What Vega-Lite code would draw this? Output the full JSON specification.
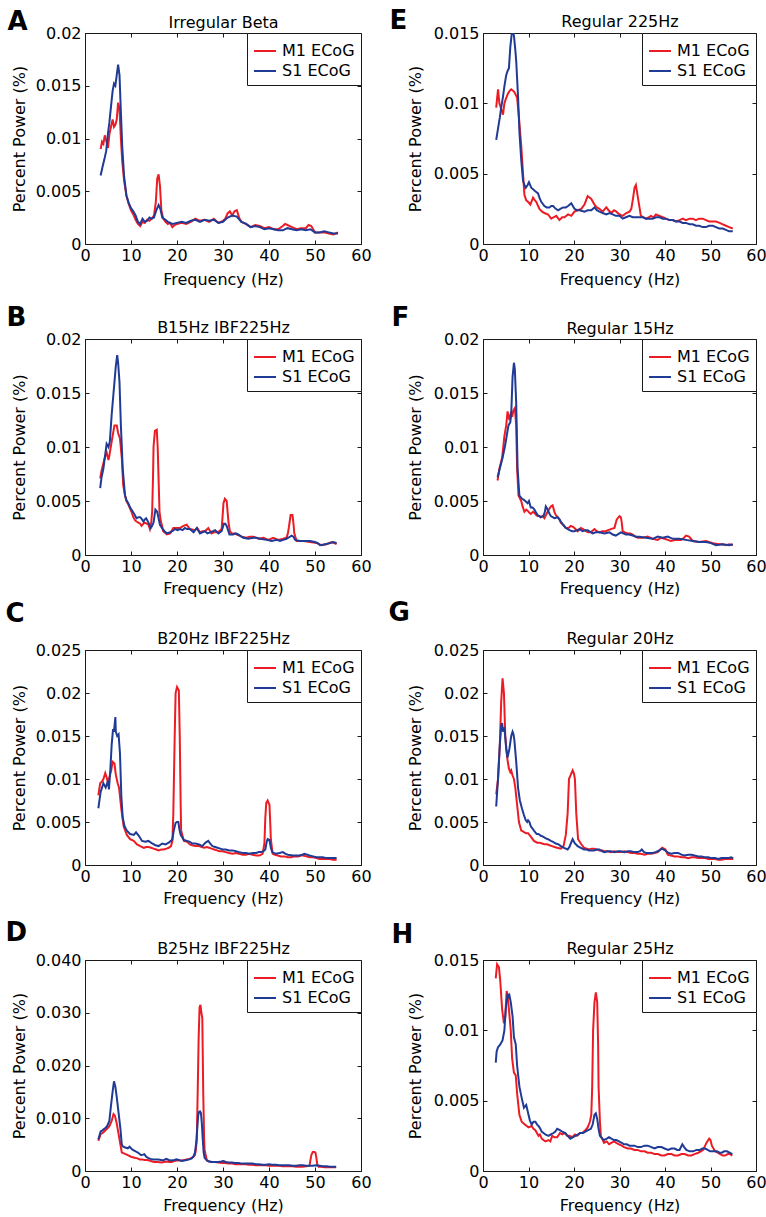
{
"$schema": "https://vega.github.io/schema/vega-lite/v6.json",
"background": "white",
"padding": {"left": 4, "top": 6, "right": 4, "bottom": 4},
"columns": 2,
"spacing": {"row": 95, "column": 122},
"bounds": "flush",
"align": "each",
"resolve": {"scale": {"color": "independent"}, "legend": {"color": "independent"}},
"datasets": {
"A": [
{"f":3.4,"s":"M1","v":0.0090},{"f":3.7,"s":"M1","v":0.0097},{"f":4.0,"s":"M1","v":0.0095},{"f":4.3,"s":"M1","v":0.0103},{"f":4.6,"s":"M1","v":0.0098},{"f":5.0,"s":"M1","v":0.0091},{"f":5.3,"s":"M1","v":0.0104},{"f":5.7,"s":"M1","v":0.0112},{"f":6.0,"s":"M1","v":0.0118},{"f":6.3,"s":"M1","v":0.0111},{"f":6.6,"s":"M1","v":0.0113},{"f":6.9,"s":"M1","v":0.0118},{"f":7.2,"s":"M1","v":0.0134},{"f":7.5,"s":"M1","v":0.0128},{"f":7.8,"s":"M1","v":0.0100},{"f":8.1,"s":"M1","v":0.0078},{"f":8.5,"s":"M1","v":0.0060},{"f":9.0,"s":"M1","v":0.0046},{"f":9.5,"s":"M1","v":0.0038},{"f":10.0,"s":"M1","v":0.0032},{"f":10.5,"s":"M1","v":0.0028},{"f":11.0,"s":"M1","v":0.0023},{"f":11.5,"s":"M1","v":0.0019},{"f":12.0,"s":"M1","v":0.0017},{"f":12.5,"s":"M1","v":0.0021},{"f":13.0,"s":"M1","v":0.0020},{"f":13.5,"s":"M1","v":0.0023},{"f":14.0,"s":"M1","v":0.0022},{"f":14.5,"s":"M1","v":0.0024},{"f":15.0,"s":"M1","v":0.0027},{"f":15.4,"s":"M1","v":0.0040},{"f":15.7,"s":"M1","v":0.0062},{"f":16.0,"s":"M1","v":0.0066},{"f":16.3,"s":"M1","v":0.0055},{"f":16.6,"s":"M1","v":0.0032},{"f":17.0,"s":"M1","v":0.0024},{"f":17.5,"s":"M1","v":0.0021},{"f":18.0,"s":"M1","v":0.0019},{"f":18.5,"s":"M1","v":0.0020},{"f":19.0,"s":"M1","v":0.0016},{"f":19.5,"s":"M1","v":0.0018},{"f":20,"s":"M1","v":0.0019},{"f":21,"s":"M1","v":0.0020},{"f":22,"s":"M1","v":0.0019},{"f":23,"s":"M1","v":0.0021},{"f":24,"s":"M1","v":0.0024},{"f":25,"s":"M1","v":0.0022},{"f":26,"s":"M1","v":0.0023},{"f":27,"s":"M1","v":0.0021},{"f":28,"s":"M1","v":0.0024},{"f":29,"s":"M1","v":0.0020},{"f":30,"s":"M1","v":0.0022},{"f":30.5,"s":"M1","v":0.0024},{"f":31,"s":"M1","v":0.0029},{"f":31.5,"s":"M1","v":0.0031},{"f":32,"s":"M1","v":0.0027},{"f":32.5,"s":"M1","v":0.0031},{"f":33,"s":"M1","v":0.0032},{"f":33.5,"s":"M1","v":0.0025},{"f":34,"s":"M1","v":0.0021},{"f":35,"s":"M1","v":0.0019},{"f":36,"s":"M1","v":0.0016},{"f":37,"s":"M1","v":0.0018},{"f":38,"s":"M1","v":0.0017},{"f":39,"s":"M1","v":0.0015},{"f":40,"s":"M1","v":0.0016},{"f":41,"s":"M1","v":0.0014},{"f":42,"s":"M1","v":0.0014},{"f":43,"s":"M1","v":0.0017},{"f":43.5,"s":"M1","v":0.0019},{"f":44,"s":"M1","v":0.0018},{"f":45,"s":"M1","v":0.0016},{"f":46,"s":"M1","v":0.0014},{"f":47,"s":"M1","v":0.0015},{"f":48,"s":"M1","v":0.0015},{"f":48.6,"s":"M1","v":0.0018},{"f":49.2,"s":"M1","v":0.0017},{"f":50,"s":"M1","v":0.0011},{"f":51,"s":"M1","v":0.0011},{"f":52,"s":"M1","v":0.0011},{"f":53,"s":"M1","v":0.0010},{"f":54,"s":"M1","v":0.0009},{"f":55,"s":"M1","v":0.0011},
{"f":3.4,"s":"S1","v":0.0065},{"f":3.8,"s":"S1","v":0.0073},{"f":4.2,"s":"S1","v":0.0080},{"f":4.6,"s":"S1","v":0.0088},{"f":5.0,"s":"S1","v":0.0105},{"f":5.3,"s":"S1","v":0.0115},{"f":5.6,"s":"S1","v":0.0128},{"f":6.0,"s":"S1","v":0.0145},{"f":6.3,"s":"S1","v":0.0152},{"f":6.6,"s":"S1","v":0.0150},{"f":6.9,"s":"S1","v":0.0160},{"f":7.2,"s":"S1","v":0.0170},{"f":7.5,"s":"S1","v":0.0160},{"f":7.8,"s":"S1","v":0.0125},{"f":8.1,"s":"S1","v":0.0092},{"f":8.5,"s":"S1","v":0.0064},{"f":9.0,"s":"S1","v":0.0046},{"f":9.5,"s":"S1","v":0.0039},{"f":10.0,"s":"S1","v":0.0034},{"f":10.5,"s":"S1","v":0.0031},{"f":11.0,"s":"S1","v":0.0027},{"f":11.5,"s":"S1","v":0.0021},{"f":12.0,"s":"S1","v":0.0019},{"f":12.5,"s":"S1","v":0.0024},{"f":13.0,"s":"S1","v":0.0021},{"f":13.5,"s":"S1","v":0.0022},{"f":14.0,"s":"S1","v":0.0025},{"f":14.5,"s":"S1","v":0.0024},{"f":15.0,"s":"S1","v":0.0025},{"f":15.5,"s":"S1","v":0.0032},{"f":16.0,"s":"S1","v":0.0037},{"f":16.4,"s":"S1","v":0.0033},{"f":16.8,"s":"S1","v":0.0025},{"f":17.5,"s":"S1","v":0.0023},{"f":18.0,"s":"S1","v":0.0021},{"f":19.0,"s":"S1","v":0.0019},{"f":20,"s":"S1","v":0.0020},{"f":21,"s":"S1","v":0.0021},{"f":22,"s":"S1","v":0.0020},{"f":23,"s":"S1","v":0.0022},{"f":24,"s":"S1","v":0.0023},{"f":25,"s":"S1","v":0.0021},{"f":26,"s":"S1","v":0.0023},{"f":27,"s":"S1","v":0.0022},{"f":28,"s":"S1","v":0.0023},{"f":29,"s":"S1","v":0.0020},{"f":30,"s":"S1","v":0.0021},{"f":31,"s":"S1","v":0.0025},{"f":32,"s":"S1","v":0.0027},{"f":33,"s":"S1","v":0.0026},{"f":34,"s":"S1","v":0.0021},{"f":35,"s":"S1","v":0.0019},{"f":36,"s":"S1","v":0.0016},{"f":37,"s":"S1","v":0.0017},{"f":38,"s":"S1","v":0.0016},{"f":39,"s":"S1","v":0.0014},{"f":40,"s":"S1","v":0.0015},{"f":41,"s":"S1","v":0.0014},{"f":42,"s":"S1","v":0.0013},{"f":43,"s":"S1","v":0.0013},{"f":44,"s":"S1","v":0.0015},{"f":45,"s":"S1","v":0.0014},{"f":46,"s":"S1","v":0.0013},{"f":47,"s":"S1","v":0.0014},{"f":48,"s":"S1","v":0.0013},{"f":49,"s":"S1","v":0.0014},{"f":50,"s":"S1","v":0.0011},{"f":51,"s":"S1","v":0.0011},{"f":52,"s":"S1","v":0.0012},{"f":53,"s":"S1","v":0.0011},{"f":54,"s":"S1","v":0.0010},{"f":55,"s":"S1","v":0.0010}
],
"E": [
{"f":2.9,"s":"M1","v":0.0097},{"f":3.3,"s":"M1","v":0.0110},{"f":3.6,"s":"M1","v":0.0100},{"f":4.0,"s":"M1","v":0.0096},{"f":4.4,"s":"M1","v":0.0092},{"f":4.7,"s":"M1","v":0.0100},{"f":5.0,"s":"M1","v":0.0103},{"f":5.5,"s":"M1","v":0.0107},{"f":5.9,"s":"M1","v":0.0109},{"f":6.2,"s":"M1","v":0.0110},{"f":6.6,"s":"M1","v":0.0109},{"f":6.9,"s":"M1","v":0.0108},{"f":7.2,"s":"M1","v":0.0106},{"f":7.5,"s":"M1","v":0.0104},{"f":7.9,"s":"M1","v":0.0090},{"f":8.2,"s":"M1","v":0.0078},{"f":8.4,"s":"M1","v":0.0070},{"f":8.8,"s":"M1","v":0.0050},{"f":9.1,"s":"M1","v":0.0035},{"f":9.5,"s":"M1","v":0.0031},{"f":9.9,"s":"M1","v":0.0030},{"f":10.4,"s":"M1","v":0.0028},{"f":11.0,"s":"M1","v":0.0033},{"f":11.4,"s":"M1","v":0.0031},{"f":11.7,"s":"M1","v":0.0030},{"f":12.4,"s":"M1","v":0.0025},{"f":13.0,"s":"M1","v":0.0023},{"f":13.5,"s":"M1","v":0.0022},{"f":14.3,"s":"M1","v":0.0021},{"f":15.0,"s":"M1","v":0.0018},{"f":15.5,"s":"M1","v":0.0019},{"f":16.1,"s":"M1","v":0.0020},{"f":16.8,"s":"M1","v":0.0017},{"f":17.4,"s":"M1","v":0.0019},{"f":17.9,"s":"M1","v":0.0019},{"f":18.7,"s":"M1","v":0.0021},{"f":19.4,"s":"M1","v":0.0020},{"f":20.1,"s":"M1","v":0.0023},{"f":20.8,"s":"M1","v":0.0024},{"f":21.6,"s":"M1","v":0.0025},{"f":22.3,"s":"M1","v":0.0028},{"f":23.0,"s":"M1","v":0.0034},{"f":23.4,"s":"M1","v":0.0033},{"f":23.8,"s":"M1","v":0.0032},{"f":24.5,"s":"M1","v":0.0028},{"f":25.0,"s":"M1","v":0.0026},{"f":25.6,"s":"M1","v":0.0025},{"f":26.3,"s":"M1","v":0.0023},{"f":27.1,"s":"M1","v":0.0026},{"f":27.6,"s":"M1","v":0.0024},{"f":28.2,"s":"M1","v":0.0022},{"f":28.8,"s":"M1","v":0.0024},{"f":29.3,"s":"M1","v":0.0023},{"f":30.0,"s":"M1","v":0.0021},{"f":30.7,"s":"M1","v":0.0020},{"f":31.5,"s":"M1","v":0.0022},{"f":32.2,"s":"M1","v":0.0023},{"f":32.6,"s":"M1","v":0.0025},{"f":33.0,"s":"M1","v":0.0033},{"f":33.3,"s":"M1","v":0.0040},{"f":33.6,"s":"M1","v":0.0042},{"f":33.9,"s":"M1","v":0.0036},{"f":34.2,"s":"M1","v":0.0030},{"f":34.7,"s":"M1","v":0.0020},{"f":35.3,"s":"M1","v":0.0019},{"f":35.8,"s":"M1","v":0.0018},{"f":36.4,"s":"M1","v":0.0019},{"f":36.9,"s":"M1","v":0.0020},{"f":37.5,"s":"M1","v":0.0019},{"f":38.0,"s":"M1","v":0.0021},{"f":38.8,"s":"M1","v":0.0020},{"f":39.5,"s":"M1","v":0.0019},{"f":40.2,"s":"M1","v":0.0018},{"f":41.0,"s":"M1","v":0.0017},{"f":41.7,"s":"M1","v":0.0017},{"f":42.4,"s":"M1","v":0.0016},{"f":43.2,"s":"M1","v":0.0017},{"f":43.9,"s":"M1","v":0.0018},{"f":44.6,"s":"M1","v":0.0017},{"f":45.4,"s":"M1","v":0.0018},{"f":46.1,"s":"M1","v":0.0018},{"f":46.8,"s":"M1","v":0.0017},{"f":47.5,"s":"M1","v":0.0018},{"f":48.3,"s":"M1","v":0.0018},{"f":49.0,"s":"M1","v":0.0017},{"f":49.7,"s":"M1","v":0.0016},{"f":50.5,"s":"M1","v":0.0016},{"f":51.2,"s":"M1","v":0.0016},{"f":52.0,"s":"M1","v":0.0015},{"f":52.7,"s":"M1","v":0.0014},{"f":53.4,"s":"M1","v":0.0013},{"f":54.1,"s":"M1","v":0.0012},{"f":54.9,"s":"M1","v":0.0011},
{"f":2.9,"s":"S1","v":0.0074},{"f":3.3,"s":"S1","v":0.0082},{"f":3.7,"s":"S1","v":0.0090},{"f":4.0,"s":"S1","v":0.0097},{"f":4.4,"s":"S1","v":0.0105},{"f":4.7,"s":"S1","v":0.0112},{"f":5.1,"s":"S1","v":0.0120},{"f":5.4,"s":"S1","v":0.0123},{"f":5.7,"s":"S1","v":0.0125},{"f":6.0,"s":"S1","v":0.0140},{"f":6.3,"s":"S1","v":0.0149},{"f":6.6,"s":"S1","v":0.0150},{"f":6.8,"s":"S1","v":0.0148},{"f":7.1,"s":"S1","v":0.0138},{"f":7.3,"s":"S1","v":0.0130},{"f":7.7,"s":"S1","v":0.0105},{"f":8.0,"s":"S1","v":0.0080},{"f":8.4,"s":"S1","v":0.0060},{"f":8.8,"s":"S1","v":0.0045},{"f":9.1,"s":"S1","v":0.0042},{"f":9.4,"s":"S1","v":0.0040},{"f":9.8,"s":"S1","v":0.0042},{"f":10.1,"s":"S1","v":0.0044},{"f":10.6,"s":"S1","v":0.0040},{"f":11.0,"s":"S1","v":0.0039},{"f":11.3,"s":"S1","v":0.0038},{"f":11.7,"s":"S1","v":0.0037},{"f":12.1,"s":"S1","v":0.0036},{"f":12.4,"s":"S1","v":0.0033},{"f":12.8,"s":"S1","v":0.0030},{"f":13.5,"s":"S1","v":0.0027},{"f":14.0,"s":"S1","v":0.0026},{"f":14.6,"s":"S1","v":0.0026},{"f":15.0,"s":"S1","v":0.0027},{"f":15.4,"s":"S1","v":0.0027},{"f":16.0,"s":"S1","v":0.0025},{"f":16.5,"s":"S1","v":0.0024},{"f":17.0,"s":"S1","v":0.0025},{"f":17.6,"s":"S1","v":0.0026},{"f":18.2,"s":"S1","v":0.0026},{"f":18.7,"s":"S1","v":0.0027},{"f":19.4,"s":"S1","v":0.0029},{"f":20.1,"s":"S1","v":0.0025},{"f":20.7,"s":"S1","v":0.0024},{"f":21.2,"s":"S1","v":0.0024},{"f":22.3,"s":"S1","v":0.0023},{"f":23.0,"s":"S1","v":0.0024},{"f":23.8,"s":"S1","v":0.0024},{"f":24.5,"s":"S1","v":0.0026},{"f":25.0,"s":"S1","v":0.0024},{"f":25.6,"s":"S1","v":0.0023},{"f":26.3,"s":"S1","v":0.0022},{"f":27.1,"s":"S1","v":0.0021},{"f":27.8,"s":"S1","v":0.0022},{"f":28.5,"s":"S1","v":0.0021},{"f":29.2,"s":"S1","v":0.0020},{"f":30.0,"s":"S1","v":0.0020},{"f":30.7,"s":"S1","v":0.0018},{"f":31.4,"s":"S1","v":0.0019},{"f":32.2,"s":"S1","v":0.0020},{"f":32.9,"s":"S1","v":0.0019},{"f":33.6,"s":"S1","v":0.0019},{"f":34.3,"s":"S1","v":0.0019},{"f":35.1,"s":"S1","v":0.0019},{"f":35.8,"s":"S1","v":0.0018},{"f":36.6,"s":"S1","v":0.0018},{"f":37.3,"s":"S1","v":0.0018},{"f":38.0,"s":"S1","v":0.0019},{"f":38.8,"s":"S1","v":0.0019},{"f":39.5,"s":"S1","v":0.0018},{"f":40.2,"s":"S1","v":0.0018},{"f":41.0,"s":"S1","v":0.0017},{"f":41.7,"s":"S1","v":0.0017},{"f":42.4,"s":"S1","v":0.0016},{"f":43.2,"s":"S1","v":0.0016},{"f":43.9,"s":"S1","v":0.0015},{"f":44.6,"s":"S1","v":0.0015},{"f":45.4,"s":"S1","v":0.0014},{"f":46.1,"s":"S1","v":0.0014},{"f":46.8,"s":"S1","v":0.0013},{"f":47.5,"s":"S1","v":0.0013},{"f":48.3,"s":"S1","v":0.0012},{"f":49.0,"s":"S1","v":0.0012},{"f":49.7,"s":"S1","v":0.0013},{"f":50.5,"s":"S1","v":0.0013},{"f":51.2,"s":"S1","v":0.0012},{"f":51.9,"s":"S1","v":0.0011},{"f":52.7,"s":"S1","v":0.0011},{"f":53.4,"s":"S1","v":0.0010},{"f":54.1,"s":"S1","v":0.0009},{"f":54.9,"s":"S1","v":0.0009}
],
"B": [
{"f":3.3,"s":"M1","v":0.0071},{"f":3.6,"s":"M1","v":0.0078},{"f":4.0,"s":"M1","v":0.0085},{"f":4.3,"s":"M1","v":0.0090},{"f":4.7,"s":"M1","v":0.0095},{"f":5.1,"s":"M1","v":0.0088},{"f":5.3,"s":"M1","v":0.0092},{"f":5.6,"s":"M1","v":0.0100},{"f":6.0,"s":"M1","v":0.0110},{"f":6.4,"s":"M1","v":0.0120},{"f":6.9,"s":"M1","v":0.0120},{"f":7.2,"s":"M1","v":0.0113},{"f":7.6,"s":"M1","v":0.0108},{"f":8.0,"s":"M1","v":0.0090},{"f":8.3,"s":"M1","v":0.0065},{"f":8.7,"s":"M1","v":0.0055},{"f":9.0,"s":"M1","v":0.0050},{"f":9.4,"s":"M1","v":0.0047},{"f":9.8,"s":"M1","v":0.0043},{"f":10.1,"s":"M1","v":0.0040},{"f":10.5,"s":"M1","v":0.0035},{"f":10.9,"s":"M1","v":0.0032},{"f":11.2,"s":"M1","v":0.0031},{"f":11.6,"s":"M1","v":0.0030},{"f":12.0,"s":"M1","v":0.0029},{"f":12.3,"s":"M1","v":0.0027},{"f":12.7,"s":"M1","v":0.0029},{"f":13.0,"s":"M1","v":0.0030},{"f":13.4,"s":"M1","v":0.0029},{"f":13.8,"s":"M1","v":0.0028},{"f":14.1,"s":"M1","v":0.0024},{"f":14.4,"s":"M1","v":0.0030},{"f":14.6,"s":"M1","v":0.0040},{"f":14.8,"s":"M1","v":0.0075},{"f":14.9,"s":"M1","v":0.0100},{"f":15.2,"s":"M1","v":0.0115},{"f":15.6,"s":"M1","v":0.0116},{"f":15.8,"s":"M1","v":0.0100},{"f":16.0,"s":"M1","v":0.0070},{"f":16.2,"s":"M1","v":0.0040},{"f":16.5,"s":"M1","v":0.0031},{"f":16.7,"s":"M1","v":0.0028},{"f":17.0,"s":"M1","v":0.0022},{"f":17.8,"s":"M1","v":0.0019},{"f":18.5,"s":"M1","v":0.0020},{"f":19.2,"s":"M1","v":0.0025},{"f":19.9,"s":"M1","v":0.0025},{"f":20.6,"s":"M1","v":0.0025},{"f":21.4,"s":"M1","v":0.0027},{"f":22.1,"s":"M1","v":0.0028},{"f":22.8,"s":"M1","v":0.0024},{"f":23.9,"s":"M1","v":0.0023},{"f":24.4,"s":"M1","v":0.0025},{"f":25.0,"s":"M1","v":0.0021},{"f":25.5,"s":"M1","v":0.0022},{"f":26.1,"s":"M1","v":0.0022},{"f":26.8,"s":"M1","v":0.0025},{"f":27.5,"s":"M1","v":0.0020},{"f":28.0,"s":"M1","v":0.0021},{"f":28.6,"s":"M1","v":0.0021},{"f":29.2,"s":"M1","v":0.0022},{"f":29.7,"s":"M1","v":0.0024},{"f":29.9,"s":"M1","v":0.0035},{"f":30.1,"s":"M1","v":0.0048},{"f":30.4,"s":"M1","v":0.0052},{"f":30.8,"s":"M1","v":0.0050},{"f":31.0,"s":"M1","v":0.0040},{"f":31.2,"s":"M1","v":0.0030},{"f":31.5,"s":"M1","v":0.0022},{"f":31.9,"s":"M1","v":0.0020},{"f":32.5,"s":"M1","v":0.0020},{"f":33.0,"s":"M1","v":0.0019},{"f":34.1,"s":"M1","v":0.0017},{"f":35.1,"s":"M1","v":0.0016},{"f":35.8,"s":"M1","v":0.0017},{"f":36.6,"s":"M1","v":0.0017},{"f":37.7,"s":"M1","v":0.0015},{"f":38.8,"s":"M1","v":0.0016},{"f":39.9,"s":"M1","v":0.0014},{"f":40.9,"s":"M1","v":0.0016},{"f":41.5,"s":"M1","v":0.0015},{"f":42.0,"s":"M1","v":0.0014},{"f":43.1,"s":"M1","v":0.0015},{"f":43.8,"s":"M1","v":0.0016},{"f":44.1,"s":"M1","v":0.0020},{"f":44.3,"s":"M1","v":0.0025},{"f":44.7,"s":"M1","v":0.0037},{"f":45.1,"s":"M1","v":0.0037},{"f":45.3,"s":"M1","v":0.0030},{"f":45.5,"s":"M1","v":0.0020},{"f":46.0,"s":"M1","v":0.0013},{"f":47.5,"s":"M1","v":0.0013},{"f":48.9,"s":"M1","v":0.0012},{"f":50.4,"s":"M1","v":0.0011},{"f":51.4,"s":"M1","v":0.0009},{"f":52.5,"s":"M1","v":0.0010},{"f":53.6,"s":"M1","v":0.0012},{"f":54.7,"s":"M1","v":0.0010},
{"f":3.3,"s":"S1","v":0.0062},{"f":3.6,"s":"S1","v":0.0072},{"f":4.0,"s":"S1","v":0.0080},{"f":4.3,"s":"S1","v":0.0090},{"f":4.7,"s":"S1","v":0.0103},{"f":5.1,"s":"S1","v":0.0100},{"f":5.4,"s":"S1","v":0.0105},{"f":5.8,"s":"S1","v":0.0130},{"f":6.2,"s":"S1","v":0.0150},{"f":6.5,"s":"S1","v":0.0165},{"f":6.7,"s":"S1","v":0.0175},{"f":7.0,"s":"S1","v":0.0185},{"f":7.2,"s":"S1","v":0.0178},{"f":7.5,"s":"S1","v":0.0160},{"f":7.8,"s":"S1","v":0.0120},{"f":8.2,"s":"S1","v":0.0080},{"f":8.7,"s":"S1","v":0.0055},{"f":9.0,"s":"S1","v":0.0051},{"f":9.4,"s":"S1","v":0.0048},{"f":9.7,"s":"S1","v":0.0045},{"f":10.1,"s":"S1","v":0.0042},{"f":10.4,"s":"S1","v":0.0040},{"f":10.7,"s":"S1","v":0.0038},{"f":11.2,"s":"S1","v":0.0034},{"f":11.6,"s":"S1","v":0.0035},{"f":12.0,"s":"S1","v":0.0035},{"f":12.4,"s":"S1","v":0.0033},{"f":12.7,"s":"S1","v":0.0031},{"f":13.0,"s":"S1","v":0.0033},{"f":13.3,"s":"S1","v":0.0034},{"f":13.8,"s":"S1","v":0.0030},{"f":14.3,"s":"S1","v":0.0025},{"f":14.6,"s":"S1","v":0.0027},{"f":14.9,"s":"S1","v":0.0030},{"f":15.1,"s":"S1","v":0.0036},{"f":15.3,"s":"S1","v":0.0042},{"f":15.7,"s":"S1","v":0.0040},{"f":16.0,"s":"S1","v":0.0034},{"f":16.3,"s":"S1","v":0.0028},{"f":16.9,"s":"S1","v":0.0024},{"f":17.3,"s":"S1","v":0.0022},{"f":17.8,"s":"S1","v":0.0020},{"f":18.5,"s":"S1","v":0.0021},{"f":19.0,"s":"S1","v":0.0022},{"f":19.6,"s":"S1","v":0.0024},{"f":20.1,"s":"S1","v":0.0023},{"f":20.7,"s":"S1","v":0.0024},{"f":21.2,"s":"S1","v":0.0023},{"f":21.7,"s":"S1","v":0.0025},{"f":22.2,"s":"S1","v":0.0024},{"f":22.8,"s":"S1","v":0.0024},{"f":23.6,"s":"S1","v":0.0021},{"f":24.3,"s":"S1","v":0.0025},{"f":25.0,"s":"S1","v":0.0020},{"f":25.5,"s":"S1","v":0.0021},{"f":26.1,"s":"S1","v":0.0022},{"f":26.6,"s":"S1","v":0.0020},{"f":27.2,"s":"S1","v":0.0021},{"f":27.8,"s":"S1","v":0.0022},{"f":28.3,"s":"S1","v":0.0023},{"f":29.0,"s":"S1","v":0.0020},{"f":29.7,"s":"S1","v":0.0022},{"f":30.2,"s":"S1","v":0.0029},{"f":30.5,"s":"S1","v":0.0029},{"f":30.8,"s":"S1","v":0.0027},{"f":31.4,"s":"S1","v":0.0019},{"f":32.2,"s":"S1","v":0.0019},{"f":32.8,"s":"S1","v":0.0020},{"f":33.3,"s":"S1","v":0.0019},{"f":34.4,"s":"S1","v":0.0016},{"f":35.5,"s":"S1","v":0.0015},{"f":36.6,"s":"S1","v":0.0016},{"f":37.3,"s":"S1","v":0.0016},{"f":38.0,"s":"S1","v":0.0015},{"f":39.5,"s":"S1","v":0.0014},{"f":40.6,"s":"S1","v":0.0013},{"f":41.7,"s":"S1","v":0.0014},{"f":42.4,"s":"S1","v":0.0013},{"f":43.1,"s":"S1","v":0.0014},{"f":43.8,"s":"S1","v":0.0015},{"f":44.2,"s":"S1","v":0.0016},{"f":44.9,"s":"S1","v":0.0018},{"f":45.3,"s":"S1","v":0.0017},{"f":45.7,"s":"S1","v":0.0014},{"f":46.7,"s":"S1","v":0.0013},{"f":47.8,"s":"S1","v":0.0013},{"f":48.9,"s":"S1","v":0.0013},{"f":50.0,"s":"S1","v":0.0012},{"f":50.6,"s":"S1","v":0.0011},{"f":51.1,"s":"S1","v":0.0009},{"f":52.2,"s":"S1","v":0.0010},{"f":53.3,"s":"S1","v":0.0011},{"f":54.0,"s":"S1","v":0.0012},{"f":54.7,"s":"S1","v":0.0011}
],
"F": [
{"f":3.2,"s":"M1","v":0.0069},{"f":3.6,"s":"M1","v":0.0080},{"f":4.2,"s":"M1","v":0.0090},{"f":4.7,"s":"M1","v":0.0110},{"f":5.1,"s":"M1","v":0.0120},{"f":5.4,"s":"M1","v":0.0133},{"f":5.8,"s":"M1","v":0.0125},{"f":6.2,"s":"M1","v":0.0133},{"f":6.4,"s":"M1","v":0.0128},{"f":6.7,"s":"M1","v":0.0134},{"f":7.0,"s":"M1","v":0.0136},{"f":7.3,"s":"M1","v":0.0120},{"f":7.5,"s":"M1","v":0.0080},{"f":7.8,"s":"M1","v":0.0055},{"f":8.4,"s":"M1","v":0.0050},{"f":8.7,"s":"M1","v":0.0045},{"f":9.1,"s":"M1","v":0.0040},{"f":9.5,"s":"M1","v":0.0042},{"f":9.8,"s":"M1","v":0.0041},{"f":10.2,"s":"M1","v":0.0039},{"f":10.5,"s":"M1","v":0.0038},{"f":11.0,"s":"M1","v":0.0040},{"f":11.3,"s":"M1","v":0.0039},{"f":11.7,"s":"M1","v":0.0037},{"f":12.0,"s":"M1","v":0.0036},{"f":12.4,"s":"M1","v":0.0036},{"f":12.7,"s":"M1","v":0.0035},{"f":13.1,"s":"M1","v":0.0036},{"f":13.5,"s":"M1","v":0.0034},{"f":14.2,"s":"M1","v":0.0040},{"f":14.9,"s":"M1","v":0.0045},{"f":15.3,"s":"M1","v":0.0046},{"f":15.7,"s":"M1","v":0.0040},{"f":16.0,"s":"M1","v":0.0037},{"f":16.4,"s":"M1","v":0.0035},{"f":16.8,"s":"M1","v":0.0033},{"f":17.1,"s":"M1","v":0.0030},{"f":17.6,"s":"M1","v":0.0028},{"f":18.2,"s":"M1","v":0.0025},{"f":18.8,"s":"M1","v":0.0025},{"f":19.3,"s":"M1","v":0.0027},{"f":19.8,"s":"M1","v":0.0026},{"f":20.1,"s":"M1","v":0.0025},{"f":20.8,"s":"M1","v":0.0022},{"f":21.5,"s":"M1","v":0.0025},{"f":22.0,"s":"M1","v":0.0024},{"f":22.6,"s":"M1","v":0.0022},{"f":23.1,"s":"M1","v":0.0021},{"f":23.7,"s":"M1","v":0.0021},{"f":24.5,"s":"M1","v":0.0024},{"f":25.0,"s":"M1","v":0.0022},{"f":25.6,"s":"M1","v":0.0021},{"f":26.2,"s":"M1","v":0.0022},{"f":27.0,"s":"M1","v":0.0022},{"f":27.5,"s":"M1","v":0.0023},{"f":28.1,"s":"M1","v":0.0024},{"f":28.9,"s":"M1","v":0.0025},{"f":29.2,"s":"M1","v":0.0030},{"f":29.4,"s":"M1","v":0.0033},{"f":30.0,"s":"M1","v":0.0036},{"f":30.3,"s":"M1","v":0.0035},{"f":30.5,"s":"M1","v":0.0030},{"f":30.7,"s":"M1","v":0.0022},{"f":31.2,"s":"M1","v":0.0021},{"f":31.8,"s":"M1","v":0.0020},{"f":32.4,"s":"M1","v":0.0020},{"f":32.9,"s":"M1","v":0.0019},{"f":33.5,"s":"M1","v":0.0017},{"f":34.0,"s":"M1","v":0.0016},{"f":35.1,"s":"M1","v":0.0016},{"f":36.2,"s":"M1","v":0.0017},{"f":37.3,"s":"M1","v":0.0015},{"f":38.4,"s":"M1","v":0.0014},{"f":39.1,"s":"M1","v":0.0016},{"f":39.9,"s":"M1","v":0.0015},{"f":40.6,"s":"M1","v":0.0014},{"f":41.3,"s":"M1","v":0.0013},{"f":42.4,"s":"M1","v":0.0014},{"f":43.5,"s":"M1","v":0.0014},{"f":44.2,"s":"M1","v":0.0016},{"f":44.6,"s":"M1","v":0.0018},{"f":45.3,"s":"M1","v":0.0017},{"f":46.1,"s":"M1","v":0.0013},{"f":47.5,"s":"M1","v":0.0012},{"f":49.0,"s":"M1","v":0.0013},{"f":50.5,"s":"M1","v":0.0011},{"f":51.9,"s":"M1","v":0.0010},{"f":52.6,"s":"M1","v":0.0010},{"f":53.4,"s":"M1","v":0.0009},{"f":54.1,"s":"M1","v":0.0010},{"f":54.9,"s":"M1","v":0.0009},
{"f":3.2,"s":"S1","v":0.0072},{"f":3.7,"s":"S1","v":0.0080},{"f":4.3,"s":"S1","v":0.0090},{"f":4.8,"s":"S1","v":0.0100},{"f":5.2,"s":"S1","v":0.0110},{"f":5.6,"s":"S1","v":0.0120},{"f":6.0,"s":"S1","v":0.0123},{"f":6.2,"s":"S1","v":0.0130},{"f":6.5,"s":"S1","v":0.0165},{"f":6.8,"s":"S1","v":0.0178},{"f":7.0,"s":"S1","v":0.0172},{"f":7.3,"s":"S1","v":0.0140},{"f":7.6,"s":"S1","v":0.0080},{"f":8.0,"s":"S1","v":0.0055},{"f":8.6,"s":"S1","v":0.0052},{"f":9.0,"s":"S1","v":0.0051},{"f":9.3,"s":"S1","v":0.0050},{"f":9.8,"s":"S1","v":0.0048},{"f":10.1,"s":"S1","v":0.0050},{"f":10.5,"s":"S1","v":0.0044},{"f":10.9,"s":"S1","v":0.0044},{"f":11.3,"s":"S1","v":0.0042},{"f":11.7,"s":"S1","v":0.0039},{"f":12.0,"s":"S1","v":0.0037},{"f":12.7,"s":"S1","v":0.0035},{"f":13.3,"s":"S1","v":0.0036},{"f":13.6,"s":"S1","v":0.0040},{"f":13.8,"s":"S1","v":0.0045},{"f":14.1,"s":"S1","v":0.0043},{"f":14.4,"s":"S1","v":0.0040},{"f":14.9,"s":"S1","v":0.0036},{"f":15.3,"s":"S1","v":0.0035},{"f":15.7,"s":"S1","v":0.0034},{"f":16.4,"s":"S1","v":0.0035},{"f":16.8,"s":"S1","v":0.0033},{"f":17.1,"s":"S1","v":0.0031},{"f":17.6,"s":"S1","v":0.0028},{"f":18.2,"s":"S1","v":0.0025},{"f":19.0,"s":"S1","v":0.0023},{"f":19.6,"s":"S1","v":0.0022},{"f":20.1,"s":"S1","v":0.0022},{"f":20.7,"s":"S1","v":0.0023},{"f":21.2,"s":"S1","v":0.0024},{"f":21.9,"s":"S1","v":0.0022},{"f":22.5,"s":"S1","v":0.0023},{"f":23.0,"s":"S1","v":0.0023},{"f":24.1,"s":"S1","v":0.0020},{"f":24.8,"s":"S1","v":0.0021},{"f":25.6,"s":"S1","v":0.0021},{"f":26.7,"s":"S1","v":0.0020},{"f":27.8,"s":"S1","v":0.0021},{"f":28.5,"s":"S1","v":0.0019},{"f":29.2,"s":"S1","v":0.0018},{"f":30.3,"s":"S1","v":0.0021},{"f":31.4,"s":"S1","v":0.0019},{"f":32.1,"s":"S1","v":0.0019},{"f":32.9,"s":"S1","v":0.0018},{"f":33.6,"s":"S1","v":0.0017},{"f":34.4,"s":"S1","v":0.0017},{"f":35.8,"s":"S1","v":0.0016},{"f":37.3,"s":"S1","v":0.0015},{"f":38.4,"s":"S1","v":0.0017},{"f":39.5,"s":"S1","v":0.0016},{"f":40.6,"s":"S1","v":0.0017},{"f":41.7,"s":"S1","v":0.0015},{"f":43.1,"s":"S1","v":0.0015},{"f":44.6,"s":"S1","v":0.0014},{"f":46.1,"s":"S1","v":0.0013},{"f":47.5,"s":"S1","v":0.0012},{"f":49.0,"s":"S1","v":0.0012},{"f":50.1,"s":"S1","v":0.0011},{"f":51.2,"s":"S1","v":0.0009},{"f":52.7,"s":"S1","v":0.0010},{"f":54.1,"s":"S1","v":0.0009},{"f":54.9,"s":"S1","v":0.0010}
],
"C": [
{"f":2.9,"s":"M1","v":0.0081},{"f":3.3,"s":"M1","v":0.0095},{"f":3.7,"s":"M1","v":0.0097},{"f":4.0,"s":"M1","v":0.0100},{"f":4.4,"s":"M1","v":0.0107},{"f":4.7,"s":"M1","v":0.0102},{"f":5.0,"s":"M1","v":0.0095},{"f":5.2,"s":"M1","v":0.0100},{"f":5.7,"s":"M1","v":0.0110},{"f":6.0,"s":"M1","v":0.0120},{"f":6.4,"s":"M1","v":0.0118},{"f":6.7,"s":"M1","v":0.0105},{"f":7.1,"s":"M1","v":0.0095},{"f":7.4,"s":"M1","v":0.0090},{"f":7.9,"s":"M1","v":0.0065},{"f":8.4,"s":"M1","v":0.0045},{"f":9.1,"s":"M1","v":0.0035},{"f":9.8,"s":"M1","v":0.0030},{"f":10.6,"s":"M1","v":0.0028},{"f":11.3,"s":"M1","v":0.0024},{"f":12.0,"s":"M1","v":0.0022},{"f":12.8,"s":"M1","v":0.0020},{"f":13.3,"s":"M1","v":0.0021},{"f":13.8,"s":"M1","v":0.0021},{"f":14.4,"s":"M1","v":0.0020},{"f":14.9,"s":"M1","v":0.0019},{"f":15.5,"s":"M1","v":0.0018},{"f":16.0,"s":"M1","v":0.0017},{"f":16.6,"s":"M1","v":0.0018},{"f":17.1,"s":"M1","v":0.0018},{"f":17.7,"s":"M1","v":0.0019},{"f":18.2,"s":"M1","v":0.0020},{"f":18.7,"s":"M1","v":0.0022},{"f":19.0,"s":"M1","v":0.0028},{"f":19.2,"s":"M1","v":0.0060},{"f":19.5,"s":"M1","v":0.0150},{"f":19.7,"s":"M1","v":0.0200},{"f":20.0,"s":"M1","v":0.0207},{"f":20.2,"s":"M1","v":0.0205},{"f":20.4,"s":"M1","v":0.0203},{"f":20.6,"s":"M1","v":0.0150},{"f":20.8,"s":"M1","v":0.0070},{"f":20.9,"s":"M1","v":0.0040},{"f":21.5,"s":"M1","v":0.0028},{"f":22.2,"s":"M1","v":0.0027},{"f":22.8,"s":"M1","v":0.0024},{"f":23.3,"s":"M1","v":0.0023},{"f":24.0,"s":"M1","v":0.0022},{"f":24.8,"s":"M1","v":0.0022},{"f":25.4,"s":"M1","v":0.0021},{"f":25.9,"s":"M1","v":0.0020},{"f":26.5,"s":"M1","v":0.0021},{"f":27.0,"s":"M1","v":0.0020},{"f":27.5,"s":"M1","v":0.0019},{"f":28.1,"s":"M1","v":0.0018},{"f":28.7,"s":"M1","v":0.0017},{"f":29.2,"s":"M1","v":0.0016},{"f":29.9,"s":"M1","v":0.0016},{"f":30.6,"s":"M1","v":0.0015},{"f":31.3,"s":"M1","v":0.0014},{"f":32.1,"s":"M1","v":0.0013},{"f":32.8,"s":"M1","v":0.0014},{"f":33.5,"s":"M1","v":0.0013},{"f":34.3,"s":"M1","v":0.0012},{"f":35.0,"s":"M1","v":0.0012},{"f":35.7,"s":"M1","v":0.0013},{"f":36.4,"s":"M1","v":0.0012},{"f":37.2,"s":"M1","v":0.0011},{"f":37.9,"s":"M1","v":0.0011},{"f":38.6,"s":"M1","v":0.0013},{"f":39.0,"s":"M1","v":0.0025},{"f":39.2,"s":"M1","v":0.0055},{"f":39.4,"s":"M1","v":0.0072},{"f":39.7,"s":"M1","v":0.0075},{"f":40.1,"s":"M1","v":0.0070},{"f":40.3,"s":"M1","v":0.0045},{"f":40.4,"s":"M1","v":0.0030},{"f":40.8,"s":"M1","v":0.0013},{"f":41.3,"s":"M1","v":0.0012},{"f":41.9,"s":"M1","v":0.0011},{"f":42.6,"s":"M1","v":0.0010},{"f":43.4,"s":"M1","v":0.0010},{"f":44.1,"s":"M1","v":0.0009},{"f":44.8,"s":"M1","v":0.0009},{"f":45.5,"s":"M1","v":0.0010},{"f":46.3,"s":"M1","v":0.0010},{"f":47.0,"s":"M1","v":0.0011},{"f":47.4,"s":"M1","v":0.0011},{"f":48.1,"s":"M1","v":0.0010},{"f":48.8,"s":"M1","v":0.0009},{"f":49.6,"s":"M1","v":0.0009},{"f":50.3,"s":"M1","v":0.0008},{"f":51.0,"s":"M1","v":0.0007},{"f":51.7,"s":"M1","v":0.0007},{"f":52.5,"s":"M1","v":0.0007},{"f":53.2,"s":"M1","v":0.0007},{"f":53.9,"s":"M1","v":0.0006},{"f":54.7,"s":"M1","v":0.0006},
{"f":2.9,"s":"S1","v":0.0066},{"f":3.4,"s":"S1","v":0.0085},{"f":3.7,"s":"S1","v":0.0090},{"f":4.0,"s":"S1","v":0.0095},{"f":4.5,"s":"S1","v":0.0090},{"f":5.0,"s":"S1","v":0.0098},{"f":5.2,"s":"S1","v":0.0088},{"f":5.5,"s":"S1","v":0.0110},{"f":5.8,"s":"S1","v":0.0140},{"f":6.1,"s":"S1","v":0.0158},{"f":6.3,"s":"S1","v":0.0155},{"f":6.6,"s":"S1","v":0.0172},{"f":6.7,"s":"S1","v":0.0155},{"f":7.0,"s":"S1","v":0.0150},{"f":7.3,"s":"S1","v":0.0152},{"f":7.6,"s":"S1","v":0.0130},{"f":7.9,"s":"S1","v":0.0080},{"f":8.2,"s":"S1","v":0.0055},{"f":8.6,"s":"S1","v":0.0045},{"f":9.1,"s":"S1","v":0.0040},{"f":9.8,"s":"S1","v":0.0036},{"f":10.6,"s":"S1","v":0.0035},{"f":11.1,"s":"S1","v":0.0038},{"f":11.7,"s":"S1","v":0.0034},{"f":12.4,"s":"S1","v":0.0028},{"f":13.1,"s":"S1","v":0.0027},{"f":13.8,"s":"S1","v":0.0028},{"f":14.6,"s":"S1","v":0.0025},{"f":15.3,"s":"S1","v":0.0023},{"f":16.0,"s":"S1","v":0.0022},{"f":16.8,"s":"S1","v":0.0025},{"f":17.5,"s":"S1","v":0.0024},{"f":18.2,"s":"S1","v":0.0026},{"f":18.7,"s":"S1","v":0.0028},{"f":19.0,"s":"S1","v":0.0030},{"f":19.3,"s":"S1","v":0.0040},{"f":19.7,"s":"S1","v":0.0049},{"f":20.0,"s":"S1","v":0.0050},{"f":20.3,"s":"S1","v":0.0050},{"f":20.5,"s":"S1","v":0.0042},{"f":20.8,"s":"S1","v":0.0035},{"f":21.5,"s":"S1","v":0.0029},{"f":22.2,"s":"S1","v":0.0028},{"f":22.8,"s":"S1","v":0.0027},{"f":23.3,"s":"S1","v":0.0025},{"f":24.0,"s":"S1","v":0.0025},{"f":24.8,"s":"S1","v":0.0024},{"f":25.5,"s":"S1","v":0.0022},{"f":26.2,"s":"S1","v":0.0026},{"f":26.8,"s":"S1","v":0.0028},{"f":27.2,"s":"S1","v":0.0025},{"f":27.7,"s":"S1","v":0.0022},{"f":28.3,"s":"S1","v":0.0021},{"f":28.8,"s":"S1","v":0.0020},{"f":29.4,"s":"S1","v":0.0019},{"f":29.9,"s":"S1","v":0.0018},{"f":30.6,"s":"S1","v":0.0018},{"f":31.3,"s":"S1","v":0.0017},{"f":32.1,"s":"S1","v":0.0017},{"f":32.8,"s":"S1","v":0.0016},{"f":33.5,"s":"S1","v":0.0015},{"f":34.3,"s":"S1","v":0.0014},{"f":35.0,"s":"S1","v":0.0014},{"f":35.7,"s":"S1","v":0.0013},{"f":36.5,"s":"S1","v":0.0014},{"f":37.2,"s":"S1","v":0.0014},{"f":37.8,"s":"S1","v":0.0015},{"f":38.3,"s":"S1","v":0.0015},{"f":38.8,"s":"S1","v":0.0016},{"f":39.2,"s":"S1","v":0.0018},{"f":39.5,"s":"S1","v":0.0027},{"f":39.7,"s":"S1","v":0.0030},{"f":40.1,"s":"S1","v":0.0029},{"f":40.4,"s":"S1","v":0.0020},{"f":40.7,"s":"S1","v":0.0015},{"f":41.5,"s":"S1","v":0.0013},{"f":42.3,"s":"S1","v":0.0014},{"f":43.0,"s":"S1","v":0.0015},{"f":43.6,"s":"S1","v":0.0013},{"f":44.1,"s":"S1","v":0.0012},{"f":45.2,"s":"S1","v":0.0011},{"f":46.0,"s":"S1","v":0.0011},{"f":46.6,"s":"S1","v":0.0011},{"f":47.2,"s":"S1","v":0.0012},{"f":47.7,"s":"S1","v":0.0013},{"f":48.3,"s":"S1","v":0.0012},{"f":48.8,"s":"S1","v":0.0011},{"f":49.6,"s":"S1","v":0.0010},{"f":50.3,"s":"S1","v":0.0009},{"f":51.0,"s":"S1","v":0.0009},{"f":51.7,"s":"S1","v":0.0009},{"f":52.5,"s":"S1","v":0.0008},{"f":53.2,"s":"S1","v":0.0008},{"f":53.9,"s":"S1","v":0.0008},{"f":54.7,"s":"S1","v":0.0008}
],
"G": [
{"f":2.9,"s":"M1","v":0.0082},{"f":3.3,"s":"M1","v":0.0100},{"f":3.7,"s":"M1","v":0.0140},{"f":4.0,"s":"M1","v":0.0190},{"f":4.3,"s":"M1","v":0.0217},{"f":4.6,"s":"M1","v":0.0200},{"f":4.9,"s":"M1","v":0.0150},{"f":5.3,"s":"M1","v":0.0125},{"f":5.7,"s":"M1","v":0.0112},{"f":6.0,"s":"M1","v":0.0108},{"f":6.2,"s":"M1","v":0.0110},{"f":6.5,"s":"M1","v":0.0104},{"f":6.8,"s":"M1","v":0.0100},{"f":7.1,"s":"M1","v":0.0090},{"f":7.5,"s":"M1","v":0.0070},{"f":7.9,"s":"M1","v":0.0050},{"f":8.4,"s":"M1","v":0.0040},{"f":8.8,"s":"M1","v":0.0039},{"f":9.1,"s":"M1","v":0.0038},{"f":9.5,"s":"M1","v":0.0037},{"f":9.9,"s":"M1","v":0.0037},{"f":10.2,"s":"M1","v":0.0035},{"f":10.5,"s":"M1","v":0.0033},{"f":11.2,"s":"M1","v":0.0028},{"f":11.9,"s":"M1","v":0.0026},{"f":12.4,"s":"M1","v":0.0026},{"f":13.0,"s":"M1","v":0.0025},{"f":13.5,"s":"M1","v":0.0024},{"f":14.1,"s":"M1","v":0.0024},{"f":14.6,"s":"M1","v":0.0023},{"f":15.2,"s":"M1","v":0.0022},{"f":15.7,"s":"M1","v":0.0021},{"f":16.3,"s":"M1","v":0.0020},{"f":17.1,"s":"M1","v":0.0019},{"f":17.7,"s":"M1","v":0.0022},{"f":18.2,"s":"M1","v":0.0035},{"f":18.6,"s":"M1","v":0.0060},{"f":18.9,"s":"M1","v":0.0100},{"f":19.3,"s":"M1","v":0.0105},{"f":19.7,"s":"M1","v":0.0110},{"f":20.0,"s":"M1","v":0.0106},{"f":20.2,"s":"M1","v":0.0100},{"f":20.5,"s":"M1","v":0.0060},{"f":20.9,"s":"M1","v":0.0030},{"f":21.5,"s":"M1","v":0.0025},{"f":22.2,"s":"M1","v":0.0020},{"f":22.8,"s":"M1","v":0.0019},{"f":23.3,"s":"M1","v":0.0018},{"f":23.9,"s":"M1","v":0.0019},{"f":24.4,"s":"M1","v":0.0019},{"f":25.0,"s":"M1","v":0.0018},{"f":25.6,"s":"M1","v":0.0017},{"f":26.2,"s":"M1","v":0.0017},{"f":26.7,"s":"M1","v":0.0016},{"f":27.4,"s":"M1","v":0.0016},{"f":28.1,"s":"M1","v":0.0015},{"f":28.9,"s":"M1","v":0.0016},{"f":29.6,"s":"M1","v":0.0015},{"f":30.3,"s":"M1","v":0.0015},{"f":31.1,"s":"M1","v":0.0016},{"f":31.8,"s":"M1","v":0.0015},{"f":32.5,"s":"M1","v":0.0014},{"f":33.3,"s":"M1","v":0.0014},{"f":34.0,"s":"M1","v":0.0013},{"f":34.7,"s":"M1","v":0.0013},{"f":35.5,"s":"M1","v":0.0012},{"f":36.2,"s":"M1","v":0.0013},{"f":37.0,"s":"M1","v":0.0013},{"f":37.7,"s":"M1","v":0.0014},{"f":38.4,"s":"M1","v":0.0015},{"f":39.0,"s":"M1","v":0.0018},{"f":39.4,"s":"M1","v":0.0020},{"f":40.1,"s":"M1","v":0.0018},{"f":40.6,"s":"M1","v":0.0012},{"f":41.3,"s":"M1","v":0.0011},{"f":42.1,"s":"M1","v":0.0010},{"f":42.8,"s":"M1","v":0.0010},{"f":43.6,"s":"M1","v":0.0009},{"f":44.3,"s":"M1","v":0.0009},{"f":45.1,"s":"M1","v":0.0008},{"f":45.8,"s":"M1","v":0.0009},{"f":46.5,"s":"M1","v":0.0009},{"f":47.3,"s":"M1","v":0.0008},{"f":48.0,"s":"M1","v":0.0008},{"f":48.8,"s":"M1","v":0.0008},{"f":49.5,"s":"M1","v":0.0007},{"f":50.2,"s":"M1","v":0.0007},{"f":51.0,"s":"M1","v":0.0007},{"f":51.7,"s":"M1","v":0.0006},{"f":52.4,"s":"M1","v":0.0006},{"f":53.2,"s":"M1","v":0.0007},{"f":53.9,"s":"M1","v":0.0007},{"f":55.0,"s":"M1","v":0.0007},
{"f":2.9,"s":"S1","v":0.0068},{"f":3.3,"s":"S1","v":0.0100},{"f":3.7,"s":"S1","v":0.0140},{"f":4.0,"s":"S1","v":0.0162},{"f":4.2,"s":"S1","v":0.0165},{"f":4.4,"s":"S1","v":0.0155},{"f":4.7,"s":"S1","v":0.0160},{"f":5.1,"s":"S1","v":0.0135},{"f":5.4,"s":"S1","v":0.0125},{"f":5.8,"s":"S1","v":0.0135},{"f":6.2,"s":"S1","v":0.0150},{"f":6.5,"s":"S1","v":0.0155},{"f":6.7,"s":"S1","v":0.0152},{"f":6.9,"s":"S1","v":0.0145},{"f":7.3,"s":"S1","v":0.0120},{"f":7.7,"s":"S1","v":0.0090},{"f":8.1,"s":"S1","v":0.0075},{"f":8.6,"s":"S1","v":0.0065},{"f":9.0,"s":"S1","v":0.0058},{"f":9.4,"s":"S1","v":0.0052},{"f":9.7,"s":"S1","v":0.0050},{"f":9.9,"s":"S1","v":0.0052},{"f":10.2,"s":"S1","v":0.0050},{"f":10.5,"s":"S1","v":0.0045},{"f":10.8,"s":"S1","v":0.0043},{"f":11.2,"s":"S1","v":0.0040},{"f":11.8,"s":"S1","v":0.0036},{"f":12.2,"s":"S1","v":0.0036},{"f":12.7,"s":"S1","v":0.0034},{"f":13.2,"s":"S1","v":0.0033},{"f":13.8,"s":"S1","v":0.0031},{"f":14.3,"s":"S1","v":0.0030},{"f":14.9,"s":"S1","v":0.0028},{"f":15.4,"s":"S1","v":0.0027},{"f":16.0,"s":"S1","v":0.0025},{"f":16.6,"s":"S1","v":0.0024},{"f":17.1,"s":"S1","v":0.0022},{"f":17.8,"s":"S1","v":0.0020},{"f":18.2,"s":"S1","v":0.0019},{"f":18.6,"s":"S1","v":0.0018},{"f":19.0,"s":"S1","v":0.0021},{"f":19.3,"s":"S1","v":0.0025},{"f":19.7,"s":"S1","v":0.0030},{"f":20.2,"s":"S1","v":0.0025},{"f":20.8,"s":"S1","v":0.0022},{"f":21.5,"s":"S1","v":0.0020},{"f":22.2,"s":"S1","v":0.0018},{"f":22.8,"s":"S1","v":0.0018},{"f":23.3,"s":"S1","v":0.0017},{"f":24.4,"s":"S1","v":0.0017},{"f":25.0,"s":"S1","v":0.0018},{"f":25.6,"s":"S1","v":0.0018},{"f":26.2,"s":"S1","v":0.0016},{"f":26.7,"s":"S1","v":0.0015},{"f":27.4,"s":"S1","v":0.0016},{"f":28.1,"s":"S1","v":0.0016},{"f":28.9,"s":"S1","v":0.0015},{"f":29.6,"s":"S1","v":0.0016},{"f":30.3,"s":"S1","v":0.0016},{"f":31.1,"s":"S1","v":0.0015},{"f":31.8,"s":"S1","v":0.0016},{"f":32.5,"s":"S1","v":0.0016},{"f":33.3,"s":"S1","v":0.0015},{"f":34.0,"s":"S1","v":0.0015},{"f":34.5,"s":"S1","v":0.0016},{"f":34.9,"s":"S1","v":0.0018},{"f":35.4,"s":"S1","v":0.0015},{"f":35.9,"s":"S1","v":0.0014},{"f":36.6,"s":"S1","v":0.0014},{"f":37.3,"s":"S1","v":0.0014},{"f":37.9,"s":"S1","v":0.0015},{"f":38.4,"s":"S1","v":0.0016},{"f":39.0,"s":"S1","v":0.0018},{"f":39.3,"s":"S1","v":0.0019},{"f":39.7,"s":"S1","v":0.0018},{"f":40.3,"s":"S1","v":0.0016},{"f":40.8,"s":"S1","v":0.0014},{"f":41.4,"s":"S1","v":0.0013},{"f":42.1,"s":"S1","v":0.0014},{"f":42.9,"s":"S1","v":0.0014},{"f":43.3,"s":"S1","v":0.0013},{"f":43.6,"s":"S1","v":0.0012},{"f":44.3,"s":"S1","v":0.0011},{"f":45.1,"s":"S1","v":0.0012},{"f":45.8,"s":"S1","v":0.0012},{"f":46.5,"s":"S1","v":0.0011},{"f":47.3,"s":"S1","v":0.0010},{"f":48.0,"s":"S1","v":0.0010},{"f":48.7,"s":"S1","v":0.0009},{"f":49.5,"s":"S1","v":0.0009},{"f":50.2,"s":"S1","v":0.0008},{"f":51.0,"s":"S1","v":0.0008},{"f":51.7,"s":"S1","v":0.0007},{"f":52.4,"s":"S1","v":0.0008},{"f":53.2,"s":"S1","v":0.0008},{"f":53.9,"s":"S1","v":0.0008},{"f":54.5,"s":"S1","v":0.0009},{"f":55.0,"s":"S1","v":0.0008}
],
"D": [
{"f":2.9,"s":"M1","v":0.0057},{"f":3.4,"s":"M1","v":0.0070},{"f":3.8,"s":"M1","v":0.0072},{"f":4.2,"s":"M1","v":0.0075},{"f":4.5,"s":"M1","v":0.0078},{"f":4.8,"s":"M1","v":0.0080},{"f":5.3,"s":"M1","v":0.0085},{"f":5.8,"s":"M1","v":0.0095},{"f":6.2,"s":"M1","v":0.0108},{"f":6.5,"s":"M1","v":0.0105},{"f":6.9,"s":"M1","v":0.0090},{"f":7.2,"s":"M1","v":0.0075},{"f":7.6,"s":"M1","v":0.0055},{"f":8.0,"s":"M1","v":0.0035},{"f":8.3,"s":"M1","v":0.0034},{"f":8.6,"s":"M1","v":0.0033},{"f":9.3,"s":"M1","v":0.0030},{"f":10.0,"s":"M1","v":0.0027},{"f":10.8,"s":"M1","v":0.0025},{"f":11.4,"s":"M1","v":0.0024},{"f":11.9,"s":"M1","v":0.0022},{"f":12.4,"s":"M1","v":0.0022},{"f":12.9,"s":"M1","v":0.0021},{"f":13.5,"s":"M1","v":0.0021},{"f":14.0,"s":"M1","v":0.0020},{"f":14.6,"s":"M1","v":0.0018},{"f":15.1,"s":"M1","v":0.0017},{"f":15.8,"s":"M1","v":0.0017},{"f":16.6,"s":"M1","v":0.0016},{"f":17.2,"s":"M1","v":0.0017},{"f":17.7,"s":"M1","v":0.0018},{"f":18.3,"s":"M1","v":0.0017},{"f":18.8,"s":"M1","v":0.0017},{"f":19.4,"s":"M1","v":0.0019},{"f":19.9,"s":"M1","v":0.0020},{"f":20.5,"s":"M1","v":0.0020},{"f":21.0,"s":"M1","v":0.0020},{"f":21.6,"s":"M1","v":0.0021},{"f":22.1,"s":"M1","v":0.0022},{"f":22.7,"s":"M1","v":0.0023},{"f":23.2,"s":"M1","v":0.0025},{"f":23.6,"s":"M1","v":0.0027},{"f":23.9,"s":"M1","v":0.0030},{"f":24.1,"s":"M1","v":0.0040},{"f":24.3,"s":"M1","v":0.0060},{"f":24.5,"s":"M1","v":0.0150},{"f":24.7,"s":"M1","v":0.0250},{"f":24.9,"s":"M1","v":0.0310},{"f":25.1,"s":"M1","v":0.0315},{"f":25.3,"s":"M1","v":0.0300},{"f":25.5,"s":"M1","v":0.0290},{"f":25.7,"s":"M1","v":0.0150},{"f":25.9,"s":"M1","v":0.0060},{"f":26.0,"s":"M1","v":0.0040},{"f":26.5,"s":"M1","v":0.0020},{"f":27.0,"s":"M1","v":0.0018},{"f":27.6,"s":"M1","v":0.0017},{"f":28.3,"s":"M1","v":0.0017},{"f":29.0,"s":"M1","v":0.0016},{"f":29.8,"s":"M1","v":0.0015},{"f":30.5,"s":"M1","v":0.0015},{"f":31.2,"s":"M1","v":0.0014},{"f":32.0,"s":"M1","v":0.0014},{"f":32.7,"s":"M1","v":0.0013},{"f":33.4,"s":"M1","v":0.0013},{"f":34.2,"s":"M1","v":0.0013},{"f":34.9,"s":"M1","v":0.0013},{"f":35.6,"s":"M1","v":0.0012},{"f":36.4,"s":"M1","v":0.0012},{"f":37.1,"s":"M1","v":0.0011},{"f":37.8,"s":"M1","v":0.0011},{"f":38.6,"s":"M1","v":0.0011},{"f":39.3,"s":"M1","v":0.0011},{"f":40.0,"s":"M1","v":0.0010},{"f":40.7,"s":"M1","v":0.0010},{"f":41.5,"s":"M1","v":0.0010},{"f":42.2,"s":"M1","v":0.0010},{"f":42.9,"s":"M1","v":0.0009},{"f":43.7,"s":"M1","v":0.0009},{"f":44.4,"s":"M1","v":0.0009},{"f":45.1,"s":"M1","v":0.0009},{"f":45.9,"s":"M1","v":0.0008},{"f":46.6,"s":"M1","v":0.0008},{"f":47.3,"s":"M1","v":0.0008},{"f":48.1,"s":"M1","v":0.0009},{"f":48.8,"s":"M1","v":0.0010},{"f":49.0,"s":"M1","v":0.0020},{"f":49.2,"s":"M1","v":0.0030},{"f":49.5,"s":"M1","v":0.0036},{"f":49.9,"s":"M1","v":0.0036},{"f":50.1,"s":"M1","v":0.0035},{"f":50.3,"s":"M1","v":0.0025},{"f":50.5,"s":"M1","v":0.0012},{"f":50.8,"s":"M1","v":0.0008},{"f":51.4,"s":"M1","v":0.0008},{"f":52.1,"s":"M1","v":0.0007},{"f":52.8,"s":"M1","v":0.0007},{"f":53.5,"s":"M1","v":0.0007},{"f":54.2,"s":"M1","v":0.0007},{"f":54.6,"s":"M1","v":0.0007},
{"f":2.9,"s":"S1","v":0.0060},{"f":3.4,"s":"S1","v":0.0075},{"f":3.8,"s":"S1","v":0.0077},{"f":4.2,"s":"S1","v":0.0080},{"f":4.5,"s":"S1","v":0.0082},{"f":4.8,"s":"S1","v":0.0085},{"f":5.3,"s":"S1","v":0.0095},{"f":5.6,"s":"S1","v":0.0120},{"f":6.0,"s":"S1","v":0.0150},{"f":6.3,"s":"S1","v":0.0170},{"f":6.6,"s":"S1","v":0.0160},{"f":6.9,"s":"S1","v":0.0140},{"f":7.3,"s":"S1","v":0.0110},{"f":7.7,"s":"S1","v":0.0080},{"f":8.0,"s":"S1","v":0.0050},{"f":8.3,"s":"S1","v":0.0046},{"f":8.6,"s":"S1","v":0.0045},{"f":9.3,"s":"S1","v":0.0043},{"f":9.7,"s":"S1","v":0.0046},{"f":10.0,"s":"S1","v":0.0043},{"f":10.4,"s":"S1","v":0.0040},{"f":11.0,"s":"S1","v":0.0037},{"f":11.5,"s":"S1","v":0.0035},{"f":12.2,"s":"S1","v":0.0030},{"f":12.6,"s":"S1","v":0.0031},{"f":12.9,"s":"S1","v":0.0032},{"f":13.3,"s":"S1","v":0.0027},{"f":13.7,"s":"S1","v":0.0025},{"f":14.2,"s":"S1","v":0.0023},{"f":14.8,"s":"S1","v":0.0022},{"f":15.4,"s":"S1","v":0.0022},{"f":15.9,"s":"S1","v":0.0022},{"f":16.5,"s":"S1","v":0.0021},{"f":17.0,"s":"S1","v":0.0020},{"f":17.4,"s":"S1","v":0.0022},{"f":17.7,"s":"S1","v":0.0023},{"f":18.2,"s":"S1","v":0.0021},{"f":18.8,"s":"S1","v":0.0020},{"f":19.4,"s":"S1","v":0.0021},{"f":19.9,"s":"S1","v":0.0022},{"f":20.4,"s":"S1","v":0.0021},{"f":21.0,"s":"S1","v":0.0019},{"f":21.6,"s":"S1","v":0.0020},{"f":22.1,"s":"S1","v":0.0021},{"f":22.7,"s":"S1","v":0.0022},{"f":23.2,"s":"S1","v":0.0024},{"f":23.6,"s":"S1","v":0.0028},{"f":23.9,"s":"S1","v":0.0035},{"f":24.2,"s":"S1","v":0.0055},{"f":24.4,"s":"S1","v":0.0080},{"f":24.6,"s":"S1","v":0.0105},{"f":24.8,"s":"S1","v":0.0112},{"f":25.0,"s":"S1","v":0.0113},{"f":25.2,"s":"S1","v":0.0110},{"f":25.4,"s":"S1","v":0.0090},{"f":25.6,"s":"S1","v":0.0060},{"f":25.8,"s":"S1","v":0.0035},{"f":26.0,"s":"S1","v":0.0025},{"f":26.5,"s":"S1","v":0.0020},{"f":27.0,"s":"S1","v":0.0018},{"f":27.6,"s":"S1","v":0.0017},{"f":28.3,"s":"S1","v":0.0017},{"f":29.0,"s":"S1","v":0.0017},{"f":29.6,"s":"S1","v":0.0018},{"f":30.1,"s":"S1","v":0.0019},{"f":30.6,"s":"S1","v":0.0017},{"f":31.2,"s":"S1","v":0.0016},{"f":31.9,"s":"S1","v":0.0016},{"f":32.7,"s":"S1","v":0.0015},{"f":33.4,"s":"S1","v":0.0015},{"f":34.2,"s":"S1","v":0.0014},{"f":34.9,"s":"S1","v":0.0014},{"f":35.6,"s":"S1","v":0.0014},{"f":36.4,"s":"S1","v":0.0014},{"f":37.1,"s":"S1","v":0.0013},{"f":37.8,"s":"S1","v":0.0013},{"f":38.6,"s":"S1","v":0.0012},{"f":39.3,"s":"S1","v":0.0012},{"f":40.0,"s":"S1","v":0.0013},{"f":40.7,"s":"S1","v":0.0012},{"f":41.5,"s":"S1","v":0.0012},{"f":42.2,"s":"S1","v":0.0011},{"f":42.9,"s":"S1","v":0.0011},{"f":43.7,"s":"S1","v":0.0011},{"f":44.4,"s":"S1","v":0.0011},{"f":45.1,"s":"S1","v":0.0010},{"f":45.9,"s":"S1","v":0.0010},{"f":46.6,"s":"S1","v":0.0011},{"f":47.3,"s":"S1","v":0.0011},{"f":48.1,"s":"S1","v":0.0010},{"f":48.8,"s":"S1","v":0.0010},{"f":49.5,"s":"S1","v":0.0010},{"f":50.3,"s":"S1","v":0.0011},{"f":51.0,"s":"S1","v":0.0010},{"f":51.7,"s":"S1","v":0.0009},{"f":52.5,"s":"S1","v":0.0009},{"f":53.2,"s":"S1","v":0.0008},{"f":53.9,"s":"S1","v":0.0008},{"f":54.6,"s":"S1","v":0.0008}
],
"H": [
{"f":2.8,"s":"M1","v":0.0137},{"f":3.1,"s":"M1","v":0.0147},{"f":3.5,"s":"M1","v":0.0145},{"f":3.8,"s":"M1","v":0.0135},{"f":4.2,"s":"M1","v":0.0115},{"f":4.6,"s":"M1","v":0.0105},{"f":4.9,"s":"M1","v":0.0110},{"f":5.2,"s":"M1","v":0.0128},{"f":5.4,"s":"M1","v":0.0125},{"f":5.7,"s":"M1","v":0.0115},{"f":6.1,"s":"M1","v":0.0100},{"f":6.4,"s":"M1","v":0.0080},{"f":6.8,"s":"M1","v":0.0070},{"f":7.2,"s":"M1","v":0.0068},{"f":7.5,"s":"M1","v":0.0055},{"f":8.0,"s":"M1","v":0.0040},{"f":8.5,"s":"M1","v":0.0035},{"f":9.2,"s":"M1","v":0.0033},{"f":10.0,"s":"M1","v":0.0031},{"f":10.7,"s":"M1","v":0.0032},{"f":11.1,"s":"M1","v":0.0030},{"f":11.5,"s":"M1","v":0.0029},{"f":12.2,"s":"M1","v":0.0025},{"f":12.5,"s":"M1","v":0.0026},{"f":12.9,"s":"M1","v":0.0023},{"f":13.7,"s":"M1","v":0.0021},{"f":14.4,"s":"M1","v":0.0022},{"f":14.8,"s":"M1","v":0.0021},{"f":15.2,"s":"M1","v":0.0025},{"f":15.7,"s":"M1","v":0.0024},{"f":16.3,"s":"M1","v":0.0024},{"f":16.9,"s":"M1","v":0.0027},{"f":17.4,"s":"M1","v":0.0026},{"f":18.0,"s":"M1","v":0.0027},{"f":18.5,"s":"M1","v":0.0025},{"f":19.0,"s":"M1","v":0.0025},{"f":19.6,"s":"M1","v":0.0024},{"f":20.2,"s":"M1","v":0.0026},{"f":20.7,"s":"M1","v":0.0025},{"f":21.3,"s":"M1","v":0.0027},{"f":21.8,"s":"M1","v":0.0027},{"f":22.5,"s":"M1","v":0.0029},{"f":23.0,"s":"M1","v":0.0031},{"f":23.5,"s":"M1","v":0.0035},{"f":23.8,"s":"M1","v":0.0040},{"f":24.0,"s":"M1","v":0.0060},{"f":24.2,"s":"M1","v":0.0100},{"f":24.5,"s":"M1","v":0.0120},{"f":24.8,"s":"M1","v":0.0127},{"f":25.1,"s":"M1","v":0.0120},{"f":25.3,"s":"M1","v":0.0090},{"f":25.4,"s":"M1","v":0.0060},{"f":25.7,"s":"M1","v":0.0035},{"f":25.9,"s":"M1","v":0.0025},{"f":26.6,"s":"M1","v":0.0020},{"f":27.2,"s":"M1","v":0.0021},{"f":27.7,"s":"M1","v":0.0019},{"f":28.2,"s":"M1","v":0.0020},{"f":28.8,"s":"M1","v":0.0021},{"f":29.3,"s":"M1","v":0.0020},{"f":29.9,"s":"M1","v":0.0019},{"f":30.5,"s":"M1","v":0.0018},{"f":31.0,"s":"M1","v":0.0017},{"f":31.8,"s":"M1","v":0.0016},{"f":32.5,"s":"M1","v":0.0016},{"f":33.3,"s":"M1","v":0.0015},{"f":34.0,"s":"M1","v":0.0015},{"f":34.7,"s":"M1","v":0.0014},{"f":35.5,"s":"M1","v":0.0014},{"f":36.2,"s":"M1","v":0.0013},{"f":37.0,"s":"M1","v":0.0013},{"f":37.7,"s":"M1","v":0.0012},{"f":38.4,"s":"M1","v":0.0012},{"f":39.2,"s":"M1","v":0.0011},{"f":39.9,"s":"M1","v":0.0011},{"f":40.6,"s":"M1","v":0.0012},{"f":41.4,"s":"M1","v":0.0012},{"f":42.1,"s":"M1","v":0.0011},{"f":42.9,"s":"M1","v":0.0011},{"f":43.6,"s":"M1","v":0.0012},{"f":44.3,"s":"M1","v":0.0012},{"f":45.1,"s":"M1","v":0.0011},{"f":45.8,"s":"M1","v":0.0011},{"f":46.5,"s":"M1","v":0.0012},{"f":47.3,"s":"M1","v":0.0013},{"f":47.9,"s":"M1","v":0.0014},{"f":48.4,"s":"M1","v":0.0015},{"f":49.1,"s":"M1","v":0.0020},{"f":49.7,"s":"M1","v":0.0023},{"f":50.0,"s":"M1","v":0.0022},{"f":50.3,"s":"M1","v":0.0018},{"f":51.0,"s":"M1","v":0.0014},{"f":51.6,"s":"M1","v":0.0013},{"f":52.1,"s":"M1","v":0.0012},{"f":52.7,"s":"M1","v":0.0011},{"f":53.2,"s":"M1","v":0.0011},{"f":53.8,"s":"M1","v":0.0012},{"f":54.3,"s":"M1","v":0.0012},{"f":54.8,"s":"M1","v":0.0011},
{"f":2.8,"s":"S1","v":0.0077},{"f":3.0,"s":"S1","v":0.0085},{"f":3.3,"s":"S1","v":0.0088},{"f":3.8,"s":"S1","v":0.0090},{"f":4.3,"s":"S1","v":0.0093},{"f":4.7,"s":"S1","v":0.0100},{"f":5.0,"s":"S1","v":0.0115},{"f":5.4,"s":"S1","v":0.0126},{"f":5.6,"s":"S1","v":0.0124},{"f":5.8,"s":"S1","v":0.0125},{"f":6.1,"s":"S1","v":0.0120},{"f":6.5,"s":"S1","v":0.0110},{"f":6.8,"s":"S1","v":0.0095},{"f":7.2,"s":"S1","v":0.0090},{"f":7.5,"s":"S1","v":0.0075},{"f":8.0,"s":"S1","v":0.0060},{"f":8.5,"s":"S1","v":0.0052},{"f":9.0,"s":"S1","v":0.0045},{"f":9.5,"s":"S1","v":0.0047},{"f":10.0,"s":"S1","v":0.0040},{"f":10.3,"s":"S1","v":0.0036},{"f":10.7,"s":"S1","v":0.0033},{"f":11.1,"s":"S1","v":0.0035},{"f":11.5,"s":"S1","v":0.0035},{"f":11.9,"s":"S1","v":0.0033},{"f":12.2,"s":"S1","v":0.0032},{"f":12.6,"s":"S1","v":0.0030},{"f":12.9,"s":"S1","v":0.0028},{"f":13.3,"s":"S1","v":0.0027},{"f":13.7,"s":"S1","v":0.0026},{"f":14.4,"s":"S1","v":0.0025},{"f":14.9,"s":"S1","v":0.0026},{"f":15.5,"s":"S1","v":0.0027},{"f":15.9,"s":"S1","v":0.0028},{"f":16.3,"s":"S1","v":0.0030},{"f":16.9,"s":"S1","v":0.0029},{"f":17.4,"s":"S1","v":0.0028},{"f":18.1,"s":"S1","v":0.0027},{"f":18.6,"s":"S1","v":0.0025},{"f":19.2,"s":"S1","v":0.0023},{"f":19.8,"s":"S1","v":0.0024},{"f":20.3,"s":"S1","v":0.0025},{"f":20.9,"s":"S1","v":0.0026},{"f":21.4,"s":"S1","v":0.0027},{"f":22.0,"s":"S1","v":0.0027},{"f":22.5,"s":"S1","v":0.0028},{"f":23.1,"s":"S1","v":0.0029},{"f":23.7,"s":"S1","v":0.0030},{"f":24.1,"s":"S1","v":0.0033},{"f":24.5,"s":"S1","v":0.0040},{"f":24.8,"s":"S1","v":0.0041},{"f":25.1,"s":"S1","v":0.0037},{"f":25.4,"s":"S1","v":0.0030},{"f":25.7,"s":"S1","v":0.0025},{"f":26.2,"s":"S1","v":0.0023},{"f":26.6,"s":"S1","v":0.0022},{"f":27.2,"s":"S1","v":0.0023},{"f":27.7,"s":"S1","v":0.0024},{"f":28.2,"s":"S1","v":0.0023},{"f":28.8,"s":"S1","v":0.0022},{"f":29.3,"s":"S1","v":0.0022},{"f":29.9,"s":"S1","v":0.0021},{"f":30.5,"s":"S1","v":0.0020},{"f":31.0,"s":"S1","v":0.0019},{"f":31.6,"s":"S1","v":0.0019},{"f":32.2,"s":"S1","v":0.0018},{"f":32.7,"s":"S1","v":0.0018},{"f":33.3,"s":"S1","v":0.0018},{"f":34.0,"s":"S1","v":0.0017},{"f":34.7,"s":"S1","v":0.0017},{"f":35.5,"s":"S1","v":0.0018},{"f":36.2,"s":"S1","v":0.0018},{"f":37.0,"s":"S1","v":0.0017},{"f":37.7,"s":"S1","v":0.0016},{"f":38.4,"s":"S1","v":0.0017},{"f":39.2,"s":"S1","v":0.0017},{"f":39.9,"s":"S1","v":0.0016},{"f":40.7,"s":"S1","v":0.0015},{"f":41.4,"s":"S1","v":0.0016},{"f":42.1,"s":"S1","v":0.0016},{"f":42.7,"s":"S1","v":0.0015},{"f":43.2,"s":"S1","v":0.0015},{"f":43.8,"s":"S1","v":0.0019},{"f":44.2,"s":"S1","v":0.0017},{"f":44.7,"s":"S1","v":0.0015},{"f":45.4,"s":"S1","v":0.0014},{"f":46.2,"s":"S1","v":0.0014},{"f":46.9,"s":"S1","v":0.0015},{"f":47.7,"s":"S1","v":0.0015},{"f":48.2,"s":"S1","v":0.0016},{"f":48.8,"s":"S1","v":0.0016},{"f":49.4,"s":"S1","v":0.0015},{"f":49.9,"s":"S1","v":0.0014},{"f":50.6,"s":"S1","v":0.0014},{"f":51.4,"s":"S1","v":0.0014},{"f":52.0,"s":"S1","v":0.0013},{"f":52.5,"s":"S1","v":0.0013},{"f":53.0,"s":"S1","v":0.0014},{"f":53.6,"s":"S1","v":0.0014},{"f":54.2,"s":"S1","v":0.0013},{"f":54.8,"s":"S1","v":0.0012}
]
},
"concat": [
{"width": 276, "height": 211, "data": {"name": "A"},
 "layer": [
  {"mark": {"type": "line", "strokeWidth": 2, "clip": true},
   "encoding": {
    "x": {"field": "f", "type": "quantitative", "scale": {"domain": [0, 60], "nice": false}, "axis": {"orient": "bottom", "values": [0,10,20,30,40,50,60], "title": "Frequency (Hz)", "titleY": 40, "titleBaseline": "alphabetic"}},
    "y": {"field": "v", "type": "quantitative", "scale": {"domain": [0, 0.02], "nice": false}, "axis": {"orient": "left", "values": [0,0.005,0.01,0.015,0.02], "labelExpr": "datum.value == 0 ? '0' : datum.value < 0.0075 ? '0.005' : datum.value < 0.0125 ? '0.01' : datum.value < 0.0175 ? '0.015' : '0.02'", "title": "Percent Power (%)", "titleX": -66, "titleBaseline": "middle"}},
    "color": {"field": "s", "type": "nominal", "scale": {"domain": ["M1","S1"], "range": ["#ec1c24","#1f3b96"]}, "legend": {"title": null, "labelExpr": "datum.label + ' ECoG'"}}
   }},
  {"mark": {"type": "point", "opacity": 0},
   "encoding": {
    "x": {"field": "f", "type": "quantitative", "scale": {"domain": [0, 60], "nice": false}, "axis": {"orient": "top", "values": [0,10,20,30,40,50,60], "labels": false, "title": "Irregular Beta", "titleY": -6, "titleBaseline": "alphabetic"}},
    "y": {"field": "v", "type": "quantitative", "scale": {"domain": [0, 0.02], "nice": false}, "axis": {"orient": "right", "values": [0,0.005,0.01,0.015,0.02], "labels": false, "title": "A", "titleAngle": 0, "titleAlign": "left", "titleBaseline": "alphabetic", "titleX": -354, "titleY": -4, "titleFontSize": 26, "titleFontWeight": "bold"}}
   }}
 ],
 "resolve": {"axis": {"x": "independent", "y": "independent"}}
},
{"width": 273, "height": 211, "data": {"name": "E"},
 "layer": [
  {"mark": {"type": "line", "strokeWidth": 2, "clip": true},
   "encoding": {
    "x": {"field": "f", "type": "quantitative", "scale": {"domain": [0, 60], "nice": false}, "axis": {"orient": "bottom", "values": [0,10,20,30,40,50,60], "title": "Frequency (Hz)", "titleY": 40, "titleBaseline": "alphabetic"}},
    "y": {"field": "v", "type": "quantitative", "scale": {"domain": [0, 0.015], "nice": false}, "axis": {"orient": "left", "values": [0,0.005,0.01,0.015], "labelExpr": "datum.value == 0 ? '0' : datum.value < 0.0075 ? '0.005' : datum.value < 0.0125 ? '0.01' : '0.015'", "title": "Percent Power (%)", "titleX": -68, "titleBaseline": "middle"}},
    "color": {"field": "s", "type": "nominal", "scale": {"domain": ["M1","S1"], "range": ["#ec1c24","#1f3b96"]}, "legend": {"title": null, "labelExpr": "datum.label + ' ECoG'"}}
   }},
  {"mark": {"type": "point", "opacity": 0},
   "encoding": {
    "x": {"field": "f", "type": "quantitative", "scale": {"domain": [0, 60], "nice": false}, "axis": {"orient": "top", "values": [0,10,20,30,40,50,60], "labels": false, "title": "Regular 225Hz", "titleY": -7, "titleBaseline": "alphabetic"}},
    "y": {"field": "v", "type": "quantitative", "scale": {"domain": [0, 0.015], "nice": false}, "axis": {"orient": "right", "values": [0,0.005,0.01,0.015], "labels": false, "title": "E", "titleAngle": 0, "titleAlign": "left", "titleBaseline": "alphabetic", "titleX": -367, "titleY": -5, "titleFontSize": 26, "titleFontWeight": "bold"}}
   }}
 ],
 "resolve": {"axis": {"x": "independent", "y": "independent"}}
},
{"width": 276, "height": 216, "data": {"name": "B"},
 "layer": [
  {"mark": {"type": "line", "strokeWidth": 2, "clip": true},
   "encoding": {
    "x": {"field": "f", "type": "quantitative", "scale": {"domain": [0, 60], "nice": false}, "axis": {"orient": "bottom", "values": [0,10,20,30,40,50,60], "title": "Frequency (Hz)", "titleY": 38, "titleBaseline": "alphabetic"}},
    "y": {"field": "v", "type": "quantitative", "scale": {"domain": [0, 0.02], "nice": false}, "axis": {"orient": "left", "values": [0,0.005,0.01,0.015,0.02], "labelExpr": "datum.value == 0 ? '0' : datum.value < 0.0075 ? '0.005' : datum.value < 0.0125 ? '0.01' : datum.value < 0.0175 ? '0.015' : '0.02'", "title": "Percent Power (%)", "titleX": -66, "titleBaseline": "middle"}},
    "color": {"field": "s", "type": "nominal", "scale": {"domain": ["M1","S1"], "range": ["#ec1c24","#1f3b96"]}, "legend": {"title": null, "labelExpr": "datum.label + ' ECoG'"}}
   }},
  {"mark": {"type": "point", "opacity": 0},
   "encoding": {
    "x": {"field": "f", "type": "quantitative", "scale": {"domain": [0, 60], "nice": false}, "axis": {"orient": "top", "values": [0,10,20,30,40,50,60], "labels": false, "title": "B15Hz IBF225Hz", "titleY": -7, "titleBaseline": "alphabetic"}},
    "y": {"field": "v", "type": "quantitative", "scale": {"domain": [0, 0.02], "nice": false}, "axis": {"orient": "right", "values": [0,0.005,0.01,0.015,0.02], "labels": false, "title": "B", "titleAngle": 0, "titleAlign": "left", "titleBaseline": "alphabetic", "titleX": -355, "titleY": -14, "titleFontSize": 26, "titleFontWeight": "bold"}}
   }}
 ],
 "resolve": {"axis": {"x": "independent", "y": "independent"}}
},
{"width": 273, "height": 216, "data": {"name": "F"},
 "layer": [
  {"mark": {"type": "line", "strokeWidth": 2, "clip": true},
   "encoding": {
    "x": {"field": "f", "type": "quantitative", "scale": {"domain": [0, 60], "nice": false}, "axis": {"orient": "bottom", "values": [0,10,20,30,40,50,60], "title": "Frequency (Hz)", "titleY": 38, "titleBaseline": "alphabetic"}},
    "y": {"field": "v", "type": "quantitative", "scale": {"domain": [0, 0.02], "nice": false}, "axis": {"orient": "left", "values": [0,0.005,0.01,0.015,0.02], "labelExpr": "datum.value == 0 ? '0' : datum.value < 0.0075 ? '0.005' : datum.value < 0.0125 ? '0.01' : datum.value < 0.0175 ? '0.015' : '0.02'", "title": "Percent Power (%)", "titleX": -68, "titleBaseline": "middle"}},
    "color": {"field": "s", "type": "nominal", "scale": {"domain": ["M1","S1"], "range": ["#ec1c24","#1f3b96"]}, "legend": {"title": null, "labelExpr": "datum.label + ' ECoG'"}}
   }},
  {"mark": {"type": "point", "opacity": 0},
   "encoding": {
    "x": {"field": "f", "type": "quantitative", "scale": {"domain": [0, 60], "nice": false}, "axis": {"orient": "top", "values": [0,10,20,30,40,50,60], "labels": false, "title": "Regular 15Hz", "titleY": -6, "titleBaseline": "alphabetic"}},
    "y": {"field": "v", "type": "quantitative", "scale": {"domain": [0, 0.02], "nice": false}, "axis": {"orient": "right", "values": [0,0.005,0.01,0.015,0.02], "labels": false, "title": "F", "titleAngle": 0, "titleAlign": "left", "titleBaseline": "alphabetic", "titleX": -365, "titleY": -14, "titleFontSize": 26, "titleFontWeight": "bold"}}
   }}
 ],
 "resolve": {"axis": {"x": "independent", "y": "independent"}}
},
{"width": 276, "height": 215, "data": {"name": "C"},
 "layer": [
  {"mark": {"type": "line", "strokeWidth": 2, "clip": true},
   "encoding": {
    "x": {"field": "f", "type": "quantitative", "scale": {"domain": [0, 60], "nice": false}, "axis": {"orient": "bottom", "values": [0,10,20,30,40,50,60], "title": "Frequency (Hz)", "titleY": 38, "titleBaseline": "alphabetic"}},
    "y": {"field": "v", "type": "quantitative", "scale": {"domain": [0, 0.025], "nice": false}, "axis": {"orient": "left", "values": [0,0.005,0.01,0.015,0.02,0.025], "labelExpr": "datum.value == 0 ? '0' : datum.value < 0.0075 ? '0.005' : datum.value < 0.0125 ? '0.01' : datum.value < 0.0175 ? '0.015' : datum.value < 0.0225 ? '0.02' : '0.025'", "title": "Percent Power (%)", "titleX": -66, "titleBaseline": "middle"}},
    "color": {"field": "s", "type": "nominal", "scale": {"domain": ["M1","S1"], "range": ["#ec1c24","#1f3b96"]}, "legend": {"title": null, "labelExpr": "datum.label + ' ECoG'"}}
   }},
  {"mark": {"type": "point", "opacity": 0},
   "encoding": {
    "x": {"field": "f", "type": "quantitative", "scale": {"domain": [0, 60], "nice": false}, "axis": {"orient": "top", "values": [0,10,20,30,40,50,60], "labels": false, "title": "B20Hz IBF225Hz", "titleY": -7, "titleBaseline": "alphabetic"}},
    "y": {"field": "v", "type": "quantitative", "scale": {"domain": [0, 0.025], "nice": false}, "axis": {"orient": "right", "values": [0,0.005,0.01,0.015,0.02,0.025], "labels": false, "title": "C", "titleAngle": 0, "titleAlign": "left", "titleBaseline": "alphabetic", "titleX": -356, "titleY": -29, "titleFontSize": 26, "titleFontWeight": "bold"}}
   }}
 ],
 "resolve": {"axis": {"x": "independent", "y": "independent"}}
},
{"width": 273, "height": 215, "data": {"name": "G"},
 "layer": [
  {"mark": {"type": "line", "strokeWidth": 2, "clip": true},
   "encoding": {
    "x": {"field": "f", "type": "quantitative", "scale": {"domain": [0, 60], "nice": false}, "axis": {"orient": "bottom", "values": [0,10,20,30,40,50,60], "title": "Frequency (Hz)", "titleY": 38, "titleBaseline": "alphabetic"}},
    "y": {"field": "v", "type": "quantitative", "scale": {"domain": [0, 0.025], "nice": false}, "axis": {"orient": "left", "values": [0,0.005,0.01,0.015,0.02,0.025], "labelExpr": "datum.value == 0 ? '0' : datum.value < 0.0075 ? '0.005' : datum.value < 0.0125 ? '0.01' : datum.value < 0.0175 ? '0.015' : datum.value < 0.0225 ? '0.02' : '0.025'", "title": "Percent Power (%)", "titleX": -68, "titleBaseline": "middle"}},
    "color": {"field": "s", "type": "nominal", "scale": {"domain": ["M1","S1"], "range": ["#ec1c24","#1f3b96"]}, "legend": {"title": null, "labelExpr": "datum.label + ' ECoG'"}}
   }},
  {"mark": {"type": "point", "opacity": 0},
   "encoding": {
    "x": {"field": "f", "type": "quantitative", "scale": {"domain": [0, 60], "nice": false}, "axis": {"orient": "top", "values": [0,10,20,30,40,50,60], "labels": false, "title": "Regular 20Hz", "titleY": -7, "titleBaseline": "alphabetic"}},
    "y": {"field": "v", "type": "quantitative", "scale": {"domain": [0, 0.025], "nice": false}, "axis": {"orient": "right", "values": [0,0.005,0.01,0.015,0.02,0.025], "labels": false, "title": "G", "titleAngle": 0, "titleAlign": "left", "titleBaseline": "alphabetic", "titleX": -368, "titleY": -30, "titleFontSize": 26, "titleFontWeight": "bold"}}
   }}
 ],
 "resolve": {"axis": {"x": "independent", "y": "independent"}}
},
{"width": 276, "height": 211, "data": {"name": "D"},
 "layer": [
  {"mark": {"type": "line", "strokeWidth": 2, "clip": true},
   "encoding": {
    "x": {"field": "f", "type": "quantitative", "scale": {"domain": [0, 60], "nice": false}, "axis": {"orient": "bottom", "values": [0,10,20,30,40,50,60], "title": "Frequency (Hz)", "titleY": 39, "titleBaseline": "alphabetic"}},
    "y": {"field": "v", "type": "quantitative", "scale": {"domain": [0, 0.04], "nice": false}, "axis": {"orient": "left", "values": [0,0.01,0.02,0.03,0.04], "labelExpr": "datum.value == 0 ? '0' : datum.value < 0.015 ? '0.010' : datum.value < 0.025 ? '0.020' : datum.value < 0.035 ? '0.030' : '0.040'", "title": "Percent Power (%)", "titleX": -66, "titleBaseline": "middle"}},
    "color": {"field": "s", "type": "nominal", "scale": {"domain": ["M1","S1"], "range": ["#ec1c24","#1f3b96"]}, "legend": {"title": null, "labelExpr": "datum.label + ' ECoG'"}}
   }},
  {"mark": {"type": "point", "opacity": 0},
   "encoding": {
    "x": {"field": "f", "type": "quantitative", "scale": {"domain": [0, 60], "nice": false}, "axis": {"orient": "top", "values": [0,10,20,30,40,50,60], "labels": false, "title": "B25Hz IBF225Hz", "titleY": -7, "titleBaseline": "alphabetic"}},
    "y": {"field": "v", "type": "quantitative", "scale": {"domain": [0, 0.04], "nice": false}, "axis": {"orient": "right", "values": [0,0.01,0.02,0.03,0.04], "labels": false, "title": "D", "titleAngle": 0, "titleAlign": "left", "titleBaseline": "alphabetic", "titleX": -356, "titleY": -20, "titleFontSize": 26, "titleFontWeight": "bold"}}
   }}
 ],
 "resolve": {"axis": {"x": "independent", "y": "independent"}}
},
{"width": 273, "height": 211, "data": {"name": "H"},
 "layer": [
  {"mark": {"type": "line", "strokeWidth": 2, "clip": true},
   "encoding": {
    "x": {"field": "f", "type": "quantitative", "scale": {"domain": [0, 60], "nice": false}, "axis": {"orient": "bottom", "values": [0,10,20,30,40,50,60], "title": "Frequency (Hz)", "titleY": 39, "titleBaseline": "alphabetic"}},
    "y": {"field": "v", "type": "quantitative", "scale": {"domain": [0, 0.015], "nice": false}, "axis": {"orient": "left", "values": [0,0.005,0.01,0.015], "labelExpr": "datum.value == 0 ? '0' : datum.value < 0.0075 ? '0.005' : datum.value < 0.0125 ? '0.01' : '0.015'", "title": "Percent Power (%)", "titleX": -68, "titleBaseline": "middle"}},
    "color": {"field": "s", "type": "nominal", "scale": {"domain": ["M1","S1"], "range": ["#ec1c24","#1f3b96"]}, "legend": {"title": null, "labelExpr": "datum.label + ' ECoG'"}}
   }},
  {"mark": {"type": "point", "opacity": 0},
   "encoding": {
    "x": {"field": "f", "type": "quantitative", "scale": {"domain": [0, 60], "nice": false}, "axis": {"orient": "top", "values": [0,10,20,30,40,50,60], "labels": false, "title": "Regular 25Hz", "titleY": -7, "titleBaseline": "alphabetic"}},
    "y": {"field": "v", "type": "quantitative", "scale": {"domain": [0, 0.015], "nice": false}, "axis": {"orient": "right", "values": [0,0.005,0.01,0.015], "labels": false, "title": "H", "titleAngle": 0, "titleAlign": "left", "titleBaseline": "alphabetic", "titleX": -365, "titleY": -18, "titleFontSize": 26, "titleFontWeight": "bold"}}
   }}
 ],
 "resolve": {"axis": {"x": "independent", "y": "independent"}}
}
],
"config": {
 "font": "DejaVu Sans",
 "view": {"stroke": "#1a1a1a", "strokeWidth": 1},
 "axis": {"domain": false, "grid": false, "ticks": true, "tickSize": -4, "tickColor": "#1a1a1a", "tickWidth": 1, "labelFont": "DejaVu Sans", "labelFontSize": 16, "labelColor": "#000000", "labelFlush": false, "labelOverlap": false, "titleFont": "DejaVu Sans", "titleFontSize": 16, "titleFontWeight": "normal", "titleColor": "#000000"},
 "axisX": {"labelPadding": 7},
 "axisY": {"labelPadding": 8},
 "legend": {"orient": "top-right", "offset": 0, "strokeColor": "#1a1a1a", "fillColor": "white", "padding": 6, "symbolType": "stroke", "symbolSize": 484, "symbolStrokeWidth": 2, "labelFont": "DejaVu Sans", "labelFontSize": 16, "labelColor": "#000000", "labelOffset": 5, "rowPadding": 0}
}
}
